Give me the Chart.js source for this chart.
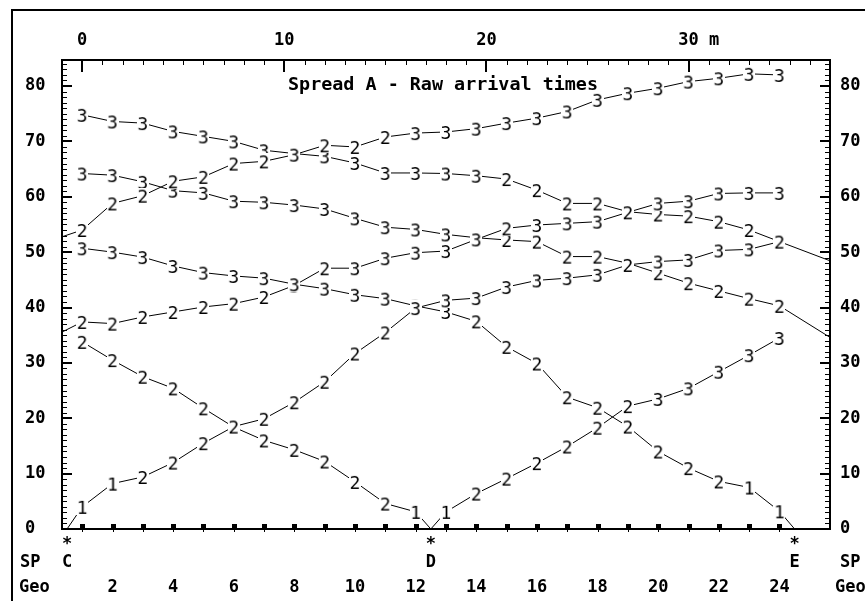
<!DOCTYPE html>
<html>
<head>
<meta charset="utf-8">
<title>Spread A - Raw arrival times</title>
<script src="https://cdn.jsdelivr.net/npm/chart.js@4.4.1/dist/chart.umd.min.js"></script>
<style>
  html, body { margin: 0; padding: 0; background: #fff; overflow: hidden; }
  canvas { display: block; }
</style>
</head>
<body>
<canvas id="chart" width="865" height="601"></canvas>
<script>
// ---- Spread geometry (metres) ----
const geoPositions = [0, 1.5, 3, 4.5, 6, 7.5, 9, 10.5, 12, 13.5, 15, 16.5,
                      18, 19.5, 21, 22.5, 24, 25.5, 27, 28.5, 30, 31.5, 33, 34.5];
const geoNumbers = [1, 2, 3, 4, 5, 6, 7, 8, 9, 10, 11, 12,
                    13, 14, 15, 16, 17, 18, 19, 20, 21, 22, 23, 24];
const geoTickNumbers = [2, 4, 6, 8, 10, 12, 14, 16, 18, 20, 22, 24];

// In-spread shot points and their positions
const shotNames = ['C', 'D', 'E'];
const shotPositions = [-0.75, 17.25, 35.25];
// Off-end shot positions (outside the plotted range)
const offEndLeftFar = -44;
const offEndLeftNear = -20.4;
const offEndRightNear = 52.2;
const offEndRightFar = 72;

// Axis labels
const distanceTicks = [0, 10, 20, 30];
const distanceTickLabels = ['0', '10', '20', '30 m'];
const timeTicks = [0, 10, 20, 30, 40, 50, 60, 70, 80];
const timeTickLabels = ['0', '10', '20', '30', '40', '50', '60', '70', '80'];

// ---- Picked arrival times at geophones 1..24 and refractor layer of each pick ----
const shotC_times  = [4.0, 8.2, 9.4, 12.0, 15.5, 18.5, 19.9, 22.9, 26.6, 31.7, 35.5, 39.9,
                      41.3, 41.7, 43.7, 44.9, 45.3, 45.9, 47.7, 48.3, 48.6, 50.3, 50.5, 51.9];
const shotC_layers = [1, 1, 2, 2, 2, 2, 2, 2, 2, 2, 2, 3,
                      3, 3, 3, 3, 3, 3, 2, 3, 3, 3, 3, 2];

const shotD_leftTimes  = [33.8, 30.5, 27.5, 25.4, 21.8, 18.4, 16.0, 14.3, 12.2, 8.5, 4.6, 3.1];
const shotD_leftLayers = [2, 2, 2, 2, 2, 2, 2, 2, 2, 2, 2, 1];
const shotD_rightTimes  = [3.1, 6.4, 9.1, 11.9, 14.9, 18.3, 22.2, 23.5, 25.4, 28.4, 31.4, 34.5];
const shotD_rightLayers = [1, 2, 2, 2, 2, 2, 2, 3, 3, 3, 3, 3];

const shotE_times  = [50.7, 50.0, 49.1, 47.5, 46.3, 45.7, 45.3, 44.2, 43.4, 42.3, 41.6, 40.3,
                      39.2, 37.5, 32.9, 29.9, 23.8, 21.9, 18.5, 14.0, 11.0, 8.6, 7.5, 3.2];
const shotE_layers = [3, 3, 3, 3, 3, 3, 3, 3, 3, 3, 3, 3,
                      3, 2, 2, 2, 2, 2, 2, 2, 2, 2, 1, 1];

const leftFar_times  = [54.0, 58.8, 60.2, 62.8, 63.6, 66.0, 66.4, 67.6, 69.3, 69.0, 70.8, 71.5,
                        71.7, 72.3, 73.3, 74.2, 75.4, 77.5, 78.7, 79.6, 80.8, 81.4, 82.2, 82.0];
const leftFar_layers = [2, 2, 2, 2, 2, 2, 2, 3, 2, 2, 2, 3,
                        3, 3, 3, 3, 3, 3, 3, 3, 3, 3, 3, 3];

const leftNear_times  = [37.4, 37.1, 38.3, 39.2, 40.1, 40.7, 41.9, 44.0, 47.1, 47.1, 48.9, 49.9,
                         50.2, 52.3, 54.3, 54.9, 55.2, 55.5, 57.2, 58.8, 59.2, 60.6, 60.7, 60.7];
const leftNear_layers = [2, 2, 2, 2, 2, 2, 2, 3, 2, 3, 3, 3,
                         3, 3, 2, 3, 3, 3, 2, 3, 3, 3, 3, 3];

const rightNear_times  = [64.2, 63.9, 62.7, 61.1, 60.7, 59.2, 59.0, 58.5, 57.8, 56.1, 54.5, 54.1,
                          53.2, 52.6, 52.2, 51.9, 49.2, 49.2, 48.0, 46.2, 44.4, 43.0, 41.6, 40.3];
const rightNear_layers = [3, 3, 3, 3, 3, 3, 3, 3, 3, 3, 3, 3,
                          3, 3, 2, 2, 2, 2, 2, 2, 2, 2, 2, 2];

const rightFar_times  = [74.8, 73.6, 73.3, 71.8, 70.9, 70.0, 68.4, 67.8, 67.3, 66.1, 64.3, 64.3,
                         64.2, 63.8, 63.2, 61.2, 58.8, 58.8, 57.3, 56.8, 56.5, 55.5, 54.0, 51.9];
const rightFar_layers = [3, 3, 3, 3, 3, 3, 3, 3, 3, 3, 3, 3,
                         3, 3, 2, 2, 2, 2, 2, 2, 2, 2, 2, 2];

// ---- helpers ----
const MONO = '"DejaVu Sans Mono", "Liberation Mono", monospace';

// Layer numbers are plotted as the point symbols, on a small white cell
function layerGlyph(ch) {
  const c = document.createElement('canvas');
  c.width = 12; c.height = 16;
  const g = c.getContext('2d');
  g.fillStyle = '#fff';
  g.fillRect(0, 0, c.width, c.height);
  g.fillStyle = '#000';
  g.font = '18px ' + MONO;
  g.textAlign = 'center';
  g.textBaseline = 'alphabetic';
  g.fillText(ch, c.width / 2, 14.6);
  return c;
}
const glyphs = { 1: layerGlyph('1'), 2: layerGlyph('2'), 3: layerGlyph('3') };

function picks(times, layers, offset) {
  return times.map((t, i) => ({ x: geoPositions[i + (offset || 0)], y: t, layer: layers[i] }));
}
function shotPoint(pos) { return { x: pos, y: 0, layer: null }; }

const curves = [
  [shotPoint(shotPositions[0]), ...picks(shotC_times, shotC_layers)],
  [...picks(shotD_leftTimes, shotD_leftLayers), shotPoint(shotPositions[1]),
   ...picks(shotD_rightTimes, shotD_rightLayers, 12)],
  [...picks(shotE_times, shotE_layers), shotPoint(shotPositions[2])],
  [shotPoint(offEndLeftFar), ...picks(leftFar_times, leftFar_layers)],
  [shotPoint(offEndLeftNear), ...picks(leftNear_times, leftNear_layers)],
  [...picks(rightNear_times, rightNear_layers), shotPoint(offEndRightNear)],
  [...picks(rightFar_times, rightFar_layers), shotPoint(offEndRightFar)]
];

const datasets = curves.map(pts => ({
  data: pts,
  borderColor: '#000',
  borderWidth: 1,
  tension: 0,
  fill: false,
  pointStyle: ctx => (ctx.raw && ctx.raw.layer) ? glyphs[ctx.raw.layer] : false,
  pointRadius: ctx => (ctx.raw && ctx.raw.layer) ? 5 : 0
}));

// Frame, axes, ticks, geophone/shot annotations and title
const frameAndAxes = {
  id: 'frameAndAxes',
  beforeDraw(chart) {
    const ctx = chart.ctx;
    ctx.save();
    ctx.fillStyle = '#fff';
    ctx.fillRect(0, 0, chart.width, chart.height);
    ctx.restore();
  },
  afterDatasetsDraw(chart) {
    const { ctx, chartArea: a, scales: { x, y } } = chart;
    const L = Math.round(a.left), R = Math.round(a.right);
    const T = Math.round(a.top), B = Math.round(a.bottom);
    ctx.save();
    ctx.fillStyle = '#000';

    // outer border
    ctx.fillRect(11, 9, chart.width - 11, 2);
    ctx.fillRect(11, 9, 2, chart.height - 9);

    // plot box
    ctx.fillRect(L - 1, T - 1, R - L + 2, 2);
    ctx.fillRect(L - 1, T - 1, 2, B - T + 2);
    ctx.fillRect(R - 1, T - 1, 2, B - T + 2);
    ctx.fillRect(L - 1, B - 1, R - L + 2, 2);

    // distance ticks along the top, pointing into the plot
    for (let m = 0; m <= 36; m++) {
      const px = Math.round(x.getPixelForValue(m));
      if (m % 10 === 0) ctx.fillRect(px - 1, T, 2, 12);
      else ctx.fillRect(px, T, 1, 5);
    }
    // time ticks on both sides
    for (let v = 1; v <= 84; v++) {
      const py = Math.round(y.getPixelForValue(v));
      const len = v % 10 === 0 ? 10 : 5;
      const h = v % 10 === 0 ? 2 : 1;
      ctx.fillRect(L, py - (h > 1 ? 1 : 0), len, h);
      ctx.fillRect(R - len, py - (h > 1 ? 1 : 0), len, h);
    }

    // geophones: small squares on the zero line
    geoPositions.forEach(g => {
      const px = Math.round(x.getPixelForValue(g));
      ctx.fillRect(px - 2, B - 5, 5, 5);
      ctx.fillRect(px, B, 1, 3);
    });

    ctx.font = 'bold 17px ' + MONO;
    ctx.textBaseline = 'middle';

    // top distance labels (number centred on its tick)
    distanceTicks.forEach((m, i) => {
      const lab = distanceTickLabels[i];
      const num = lab.split(' ')[0];
      const px = x.getPixelForValue(m);
      ctx.textAlign = 'left';
      ctx.fillText(lab, px - ctx.measureText(num).width / 2, 41);
    });

    // time labels, left and right
    timeTicks.forEach((v, i) => {
      const py = y.getPixelForValue(v);
      ctx.textAlign = 'left';
      ctx.fillText(timeTickLabels[i], 25, py);
      ctx.fillText(timeTickLabels[i], 840, py);
    });

    // shot points
    shotNames.forEach((s, i) => {
      const px = x.getPixelForValue(shotPositions[i]);
      ctx.textAlign = 'center';
      ctx.fillText('*', px, 545);
      ctx.fillText(s, px, 563);
    });
    ctx.textAlign = 'left';
    ctx.fillText('SP', 20, 563);
    ctx.fillText('SP', 840, 563);
    ctx.fillText('Geo', 19, 588);
    ctx.fillText('Geo', 835, 588);

    // geophone numbers
    geoTickNumbers.forEach(n => {
      const px = x.getPixelForValue(geoPositions[geoNumbers.indexOf(n)]);
      ctx.textAlign = 'center';
      ctx.fillText(String(n), px, 588);
    });

    // title inside the plot
    ctx.font = 'bold 18.4px ' + MONO;
    ctx.textAlign = 'left';
    ctx.fillText('Spread A - Raw arrival times', 288, 85);

    ctx.restore();
  }
};

new Chart(document.getElementById('chart'), {
  type: 'line',
  data: { datasets },
  options: {
    responsive: false,
    animation: false,
    events: [],
    layout: { padding: { left: 62, right: 35, top: 60, bottom: 72 } },
    plugins: { legend: { display: false }, tooltip: { enabled: false }, title: { display: false } },
    scales: {
      x: { type: 'linear', min: -1, max: 37, display: false },
      y: { type: 'linear', min: 0, max: 84.7, display: false }
    }
  },
  plugins: [frameAndAxes]
});
</script>
</body>
</html>
